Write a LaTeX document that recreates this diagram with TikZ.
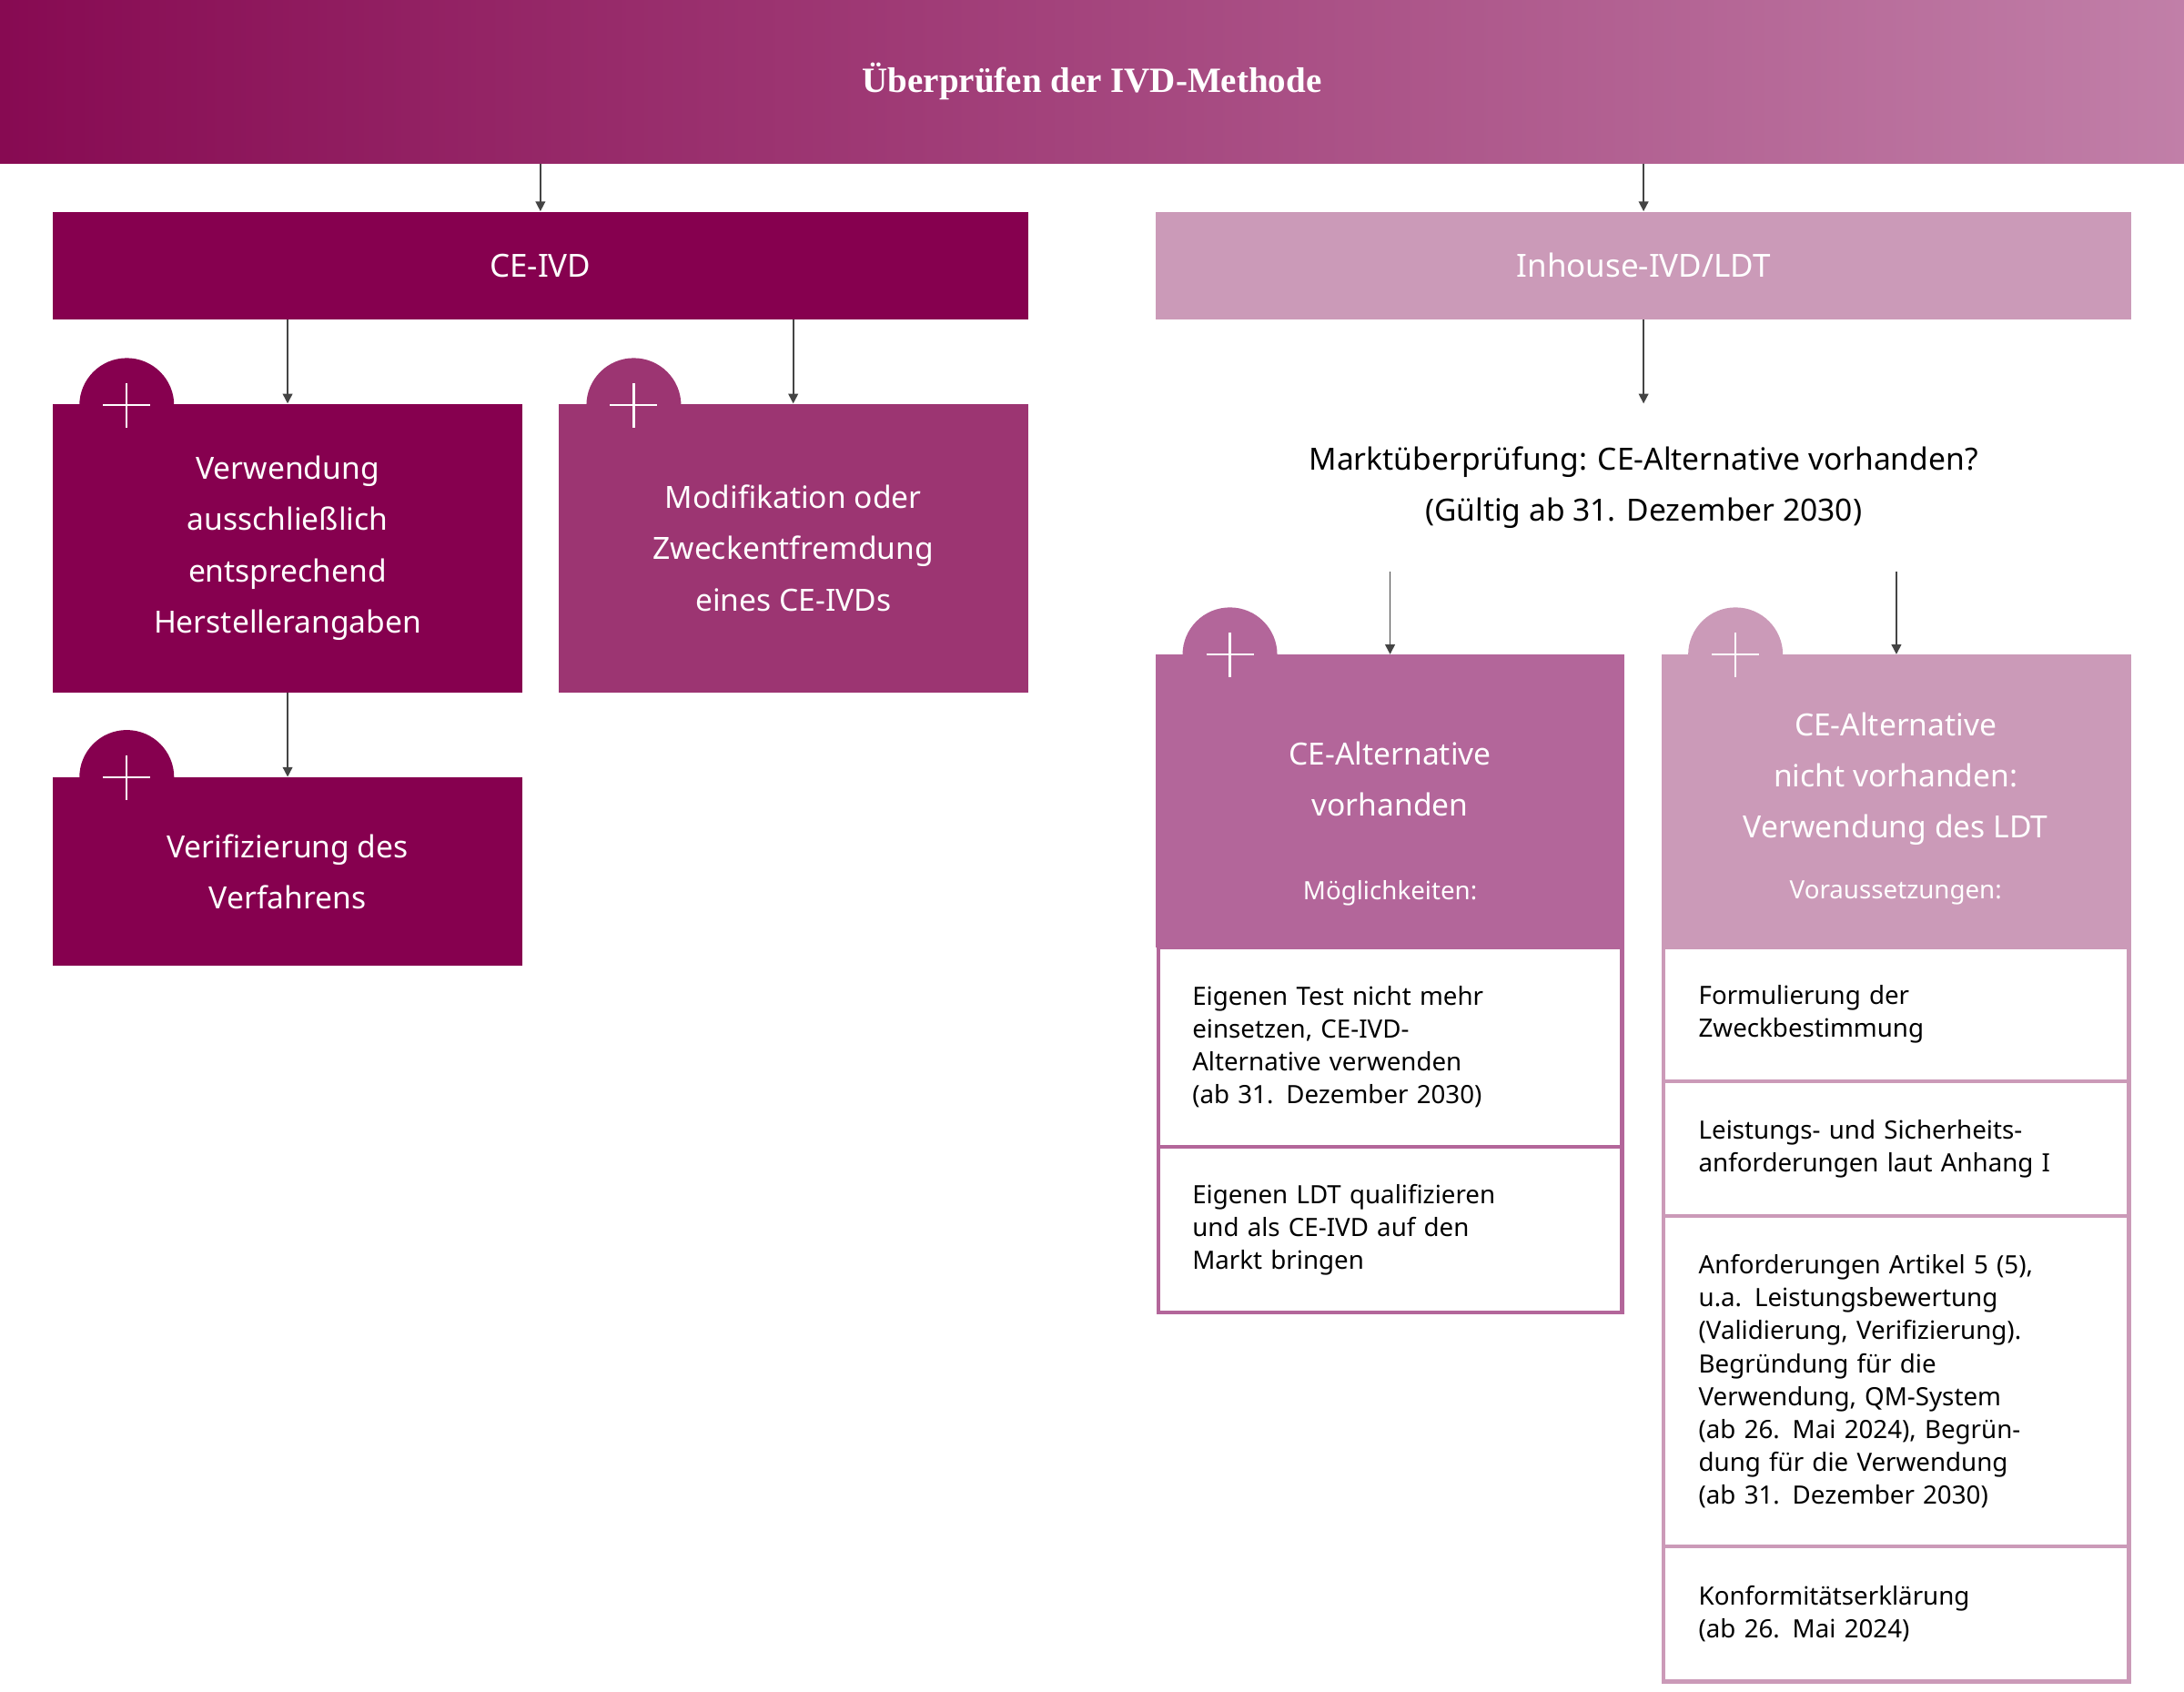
\documentclass[tikz,border=0pt]{standalone}
\usepackage{fontspec}
\setmainfont{Noto Sans}
\newfontfamily\titlefont{Liberation Serif}
\usetikzlibrary{arrows.meta,fit}
\definecolor{dk}{HTML}{86004F}
\definecolor{md}{HTML}{9C3572}
\definecolor{lm}{HTML}{B3669A}
\definecolor{lt}{HTML}{CB9AB8}
\definecolor{tl}{HTML}{870A52}
\definecolor{tr}{HTML}{C17FA8}
\definecolor{ar}{HTML}{444444}
\begin{document}
\begin{tikzpicture}[x=0.02cm,y=-0.02cm,
  box/.style={fit={#1},inner sep=0pt,draw=none},
  arr/.style={draw=ar,line width=0.6pt,-{Triangle[length=4pt,width=4pt]}},
  big/.style={text=white,align=center,font=\fontsize{12.5}{20.9}\selectfont},
  hdr/.style={text=white,font=\fontsize{13}{16}\selectfont\bfseries},
  small/.style={align=left,text width=5.7cm,font=\fontsize{10.3}{13.4}\selectfont},
  cell/.style={fit={#1},inner sep=0pt,fill=white},
  plus/.style={white,line width=0.8pt}]
\useasboundingbox (0,0) rectangle (1568,1214);
% title
\node[box={(0,0)(1568,117)},left color=tl,right color=tr] (title) {};
\node[text=white,font=\titlefont\fontsize{14.5}{17}\selectfont\bfseries] (tt) at (title.center) {Überprüfen der IVD-Methode};
% circles
\foreach \cx/\cy/\c in {91/291/dk,455/291/md,91/558/dk,883/470/lm,1246/470/lt}
  \fill[\c] (\cx,\cy) circle (0.68cm);
% main headers
\node[box={(38,152)(738,229)},fill=dk] (ceivd) {};
\node[hdr] at (ceivd.center) {CE-IVD};
\node[box={(830,152)(1530,229)},fill=lt] (inh) {};
\node[hdr] at (inh.center) {Inhouse-IVD/LDT};
% left boxes
\node[box={(38,290)(375,497)},fill=dk] (a) {};
\node[big] at (a.center) {Verwendung\\ausschließlich\\entsprechend\\Herstellerangaben};
\node[box={(401,290)(738,497)},fill=md] (b) {};
\node[big] at (b.center) {Modifikation oder\\Zweckentfremdung\\eines CE-IVDs};
\node[box={(38,558)(375,693)},fill=dk] (c) {};
\node[big] at (c.center) {Verifizierung des\\Verfahrens};
% question
\node[box={(830,290)(1530,410)}] (q) {};
\node[align=center,font=\fontsize{12.5}{20.9}\selectfont] at (q.center) {Marktüberprüfung: CE-Alternative vorhanden?\\(Gültig ab 31. Dezember 2030)};
% D
\node[box={(830,470)(1166,680)},fill=lm] (d) {};
\node[big] at (998,559) {CE-Alternative\\vorhanden};
\node[text=white,font=\fontsize{10.3}{13}\selectfont] at (998,641) {Möglichkeiten:};
\draw[lm,line width=1.6pt,fill=white] (831.5,680) rectangle (1164.5,823);
\node[cell={(834,682)(1163,821)}] (d1) {};
\node[small] at (d1.center) {Eigenen Test nicht mehr\\einsetzen, CE-IVD-\\Alternative verwenden\\(ab 31. Dezember 2030)};
\draw[lm,line width=1.6pt,fill=white] (831.5,823) rectangle (1164.5,942);
\node[cell={(834,825)(1163,940)}] (d2) {};
\node[small] at (d2.center) {Eigenen LDT qualifizieren\\und als CE-IVD auf den\\Markt bringen};
% E
\node[box={(1193,470)(1530,680)},fill=lt] (e) {};
\node[big] at (1361,559) {CE-Alternative\\nicht vorhanden:\\Verwendung des LDT};
\node[text=white,font=\fontsize{10.3}{13}\selectfont] at (1361,641) {Voraussetzungen:};
\foreach \ya/\yb/\n/\t in {680/776/e1/{Formulierung der\\Zweckbestimmung},
  776/873/e2/{Leistungs- und Sicherheits-\\anforderungen laut Anhang I},
  873/1110/e3/{Anforderungen Artikel 5 (5),\\u.a. Leistungsbewertung\\(Validierung, Verifizierung).\\Begründung für die\\Verwendung, QM-System\\(ab 26. Mai 2024), Begrün-\\dung für die Verwendung\\(ab 31. Dezember 2030)},
  1110/1207/e4/{Konformitätserklärung\\(ab 26. Mai 2024)}}{
  \draw[lt,line width=1.6pt,fill=white] (1194.5,\ya) rectangle (1528.5,\yb);
  \node[cell={(1197,\ya+2)(1527,\yb-2)}] (\n) {};
  \node[small] at (\n.center) {\t};
}
% plus signs
\foreach \cx/\cy in {91/291,455/291,91/558,883/470,1246/470}
  \draw[plus] (\cx,\cy-16) -- (\cx,\cy+16) (\cx-17,\cy) -- (\cx+17,\cy);
% arrows
\draw[arr] (title.south -| ceivd.north) -- (ceivd.north);
\draw[arr] (title.south -| inh.north) -- (inh.north);
\draw[arr] (ceivd.south -| a.north) -- (a.north);
\draw[arr] (ceivd.south -| b.north) -- (b.north);
\draw[arr] (a.south) -- (c.north);
\draw[arr] (inh.south) -- (q.north);
\draw[arr] (q.south -| d.north) -- (d.north);
\draw[arr] (q.south -| e.north) -- (e.north);
\end{tikzpicture}
\end{document}
